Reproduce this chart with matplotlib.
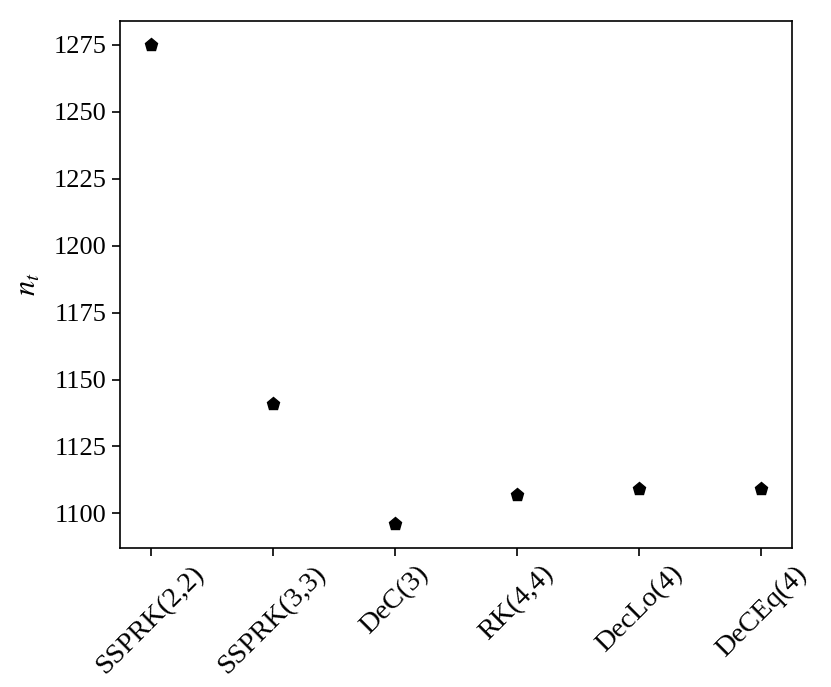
#!/usr/bin/env python3
"""n_t per time integration scheme"""
import matplotlib
matplotlib.use('Agg')
import matplotlib.pyplot as plt

plt.rcParams['font.family'] = ['Liberation Serif', 'DejaVu Serif']
plt.rcParams['mathtext.fontset'] = 'stix'

# data
schemes = ['SSPRK(2,2)', 'SSPRK(3,3)', 'DeC(3)', 'RK(4,4)', 'DecLo(4)', 'DeCEq(4)']
n_t = [1275, 1141, 1096, 1107, 1109, 1109]

fig = plt.figure(figsize=(8.31, 6.87), dpi=100)
ax = fig.add_axes([0.1444, 0.2023, 0.8086, 0.7671])

ax.plot(range(len(schemes)), n_t, linestyle='none', marker='p',
        markersize=9.5, color='black')

ax.set_xticks(range(len(schemes)))
ax.set_xticklabels(schemes, rotation=45, fontsize=20.5)
ax.set_yticks([1100, 1125, 1150, 1175, 1200, 1225, 1250, 1275])
ax.tick_params(axis='y', labelsize=19)
ax.tick_params(length=6, width=1.2)
ax.set_ylabel('$n_t$', fontsize=22, labelpad=8)
for s in ax.spines.values():
    s.set_linewidth(1.2)

plt.savefig('out.png', dpi=100, facecolor='white')
